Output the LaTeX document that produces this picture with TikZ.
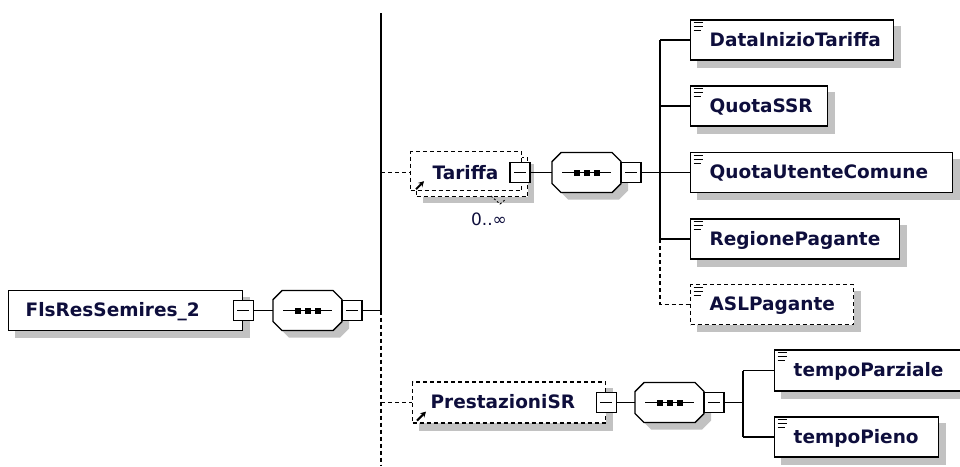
\documentclass[tikz,border=0pt]{standalone}
\usepackage{fontspec}
\setmainfont{DejaVu Sans}
\usetikzlibrary{backgrounds,arrows.meta,calc}
\definecolor{txt}{RGB}{14,14,60}
\definecolor{shd}{RGB}{194,194,194}
\newcommand\elfont{\fontsize{18.5}{20}\selectfont\bfseries}
\newcommand\etxt[3]{\makebox[#1pt][l]{\hspace{#2pt}#3}}
\tikzset{
  elem/.style={draw=black, line width=1.4pt, fill=white, inner sep=0pt, minimum height=40pt,
    font=\elfont, text=txt, text height=14pt, text depth=2pt, anchor=west},
  dashedbox/.style={line width=1.2pt, dash pattern=on 4pt off 3pt},
  sq/.style={draw=black, fill=white, line width=1.2pt, minimum size=20pt, inner sep=0pt,
    path picture={\draw[line width=1.1pt] ([xshift=4pt]path picture bounding box.west) -- ([xshift=-4pt]path picture bounding box.east);}},
  seqn/.style={rectangle, minimum width=69pt, minimum height=40pt, inner sep=0pt},
  conn/.style={line width=1.3pt},
  dconn/.style={line width=1.2pt, dash pattern=on 4pt off 3pt},
  refarrow/.style={line width=2pt, -{Stealth[length=5.5pt,width=6pt]}},
}
\newcommand\mkseq[3]{%
  \begin{scope}[shift={(#2,#3)}]
    \fill[shd, shift={(7,7)}] (0,-11) -- (9,-20) -- (60,-20) -- (69,-11) -- (69,11) -- (60,20) -- (9,20) -- (0,11) -- cycle;
    \draw[fill=white, line width=1.4pt] (0,-11) -- (9,-20) -- (60,-20) -- (69,-11) -- (69,11) -- (60,20) -- (9,20) -- (0,11) -- cycle;
    \node[seqn] (#1) at (34.5,0) {};
    \draw[line width=1.3pt] (10,0) -- (59,0);
    \fill (21.5,-3) rectangle (27.5,3);
    \fill (31.5,-3) rectangle (37.5,3);
    \fill (41.5,-3) rectangle (47.5,3);
    \node[sq] (#1q) at (79,0) {};
  \end{scope}}
\newcommand\docicon[1]{%
  \draw[line width=0.9pt] ([shift={(3.5,3.5)}]#1.north west) -- ++(9.5,0);
  \draw[line width=0.9pt] ([shift={(3.5,7.5)}]#1.north west) -- ++(9.5,0);
  \draw[line width=0.9pt] ([shift={(3.5,11.5)}]#1.north west) -- ++(7.5,0);}
\begin{document}
\begin{tikzpicture}[x=1pt, y=-1pt]
\useasboundingbox (0,0) rectangle (960,466);
\clip (0,0) rectangle (960,466);

% root element
\node[elem] (fls) at (8,310.5) {\etxt{234}{17}{FlsResSemires\_2}};
\node[sq] (flsq) at (fls.east) {};
\mkseq{seqa}{273}{310.5}

% Tariffa (repeating, optional, reference)
\node[elem, dashedbox, anchor=north west, minimum height=39pt] (tarstk) at (416,157) {\etxt{111}{0}{}};
\node[elem, dashedbox, anchor=north west, minimum height=39pt] (tar) at (410,151) {\etxt{111}{22}{\raisebox{-2pt}{Tariffa}}};
\node[sq] (tarsq) at (520,172.5) {};
\draw[refarrow] ([shift={(6,-2)}]tar.south west) -- ++(8,-8);
\node[font=\fontsize{17}{18}\selectfont, text=txt, inner sep=0pt] (occ) at (489,219) {0..∞};
\draw[line width=0.9pt, dash pattern=on 2pt off 2pt] (491,196) -- (500,204) -- (506,199);
\mkseq{seqb}{552}{172.5}

% children of Tariffa
\node[elem] (dit) at (690,40) {\etxt{203}{19}{DataInizioTariffa}};
\node[elem] (qssr) at (690,106) {\etxt{137}{19}{QuotaSSR}};
\node[elem] (quc) at (690,172.5) {\etxt{262}{19}{QuotaUtenteComune}};
\node[elem] (rp) at (690,239) {\etxt{209}{19}{RegionePagante}};
\node[elem, dashedbox] (asl) at (690,304.5) {\etxt{163}{19}{ASLPagante}};
\foreach \n in {dit,qssr,quc,rp,asl} {\docicon{\n}}

% PrestazioniSR
\node[elem, dashedbox, minimum height=41pt] (pr) at (412,402.5) {\etxt{193}{18}{PrestazioniSR}};
\node[sq] (prsq) at (pr.east) {};
\draw[refarrow] ([shift={(5,-3)}]pr.south west) -- ++(9,-9);
\mkseq{seqc}{635}{402.5}
\node[elem, minimum height=41pt] (tpp) at (774,370.5) {\etxt{200}{19}{tempoParziale}};
\node[elem] (tpn) at (774,437) {\etxt{164}{19}{tempoPieno}};
\foreach \n in {tpp,tpn} {\docicon{\n}}

% main bar
\coordinate (bartop) at (381,13);
\coordinate (barj) at (381,310.5);
\coordinate (barbot) at (381,466);
\draw[conn] (bartop) -- (barj);
\draw[dconn] (barj) -- (barbot);
\draw[conn] (flsq.east) -- (seqa.west);
\draw[conn] (seqaq.east) -- (barj);
\draw[dconn] (tarsq -| bartop) -- (tarsq -| tar.west);
\draw[dconn] (prsq -| bartop) -- (pr.west);

% Tariffa branch
\coordinate (brb) at (660,172.5);
\draw[conn] (tarsq.east) -- (seqb.west);
\draw[conn] (seqbq.east) -- (brb);
\draw[conn] (dit.west -| brb) -- (rp.west -| brb);
\draw[dconn] (rp.west -| brb) -- (asl.west -| brb) -- (asl.west);
\foreach \n in {dit,qssr,quc,rp} {\draw[conn] (\n.west -| brb) -- (\n.west);}

% PrestazioniSR branch
\coordinate (brc) at (743,402.5);
\draw[conn] (prsq.east) -- (seqc.west);
\draw[conn] (seqcq.east) -- (brc);
\draw[conn] (tpp.west -| brc) -- (tpn.west -| brc);
\draw[conn] (tpp.west -| brc) -- (tpp.west);
\draw[conn] (tpn.west -| brc) -- (tpn.west);

% shadows
\begin{scope}[on background layer]
  \fill[white] (0,0) rectangle (960,466);
  \foreach \n in {fls,dit,qssr,quc,rp,asl,pr,tpp,tpn}
    {\fill[shd] ([shift={(7,7)}]\n.north west) rectangle ([shift={(7,7)}]\n.south east);}
  \fill[shd] (423,164) rectangle (534,203);
\end{scope}
\end{tikzpicture}
\end{document}
